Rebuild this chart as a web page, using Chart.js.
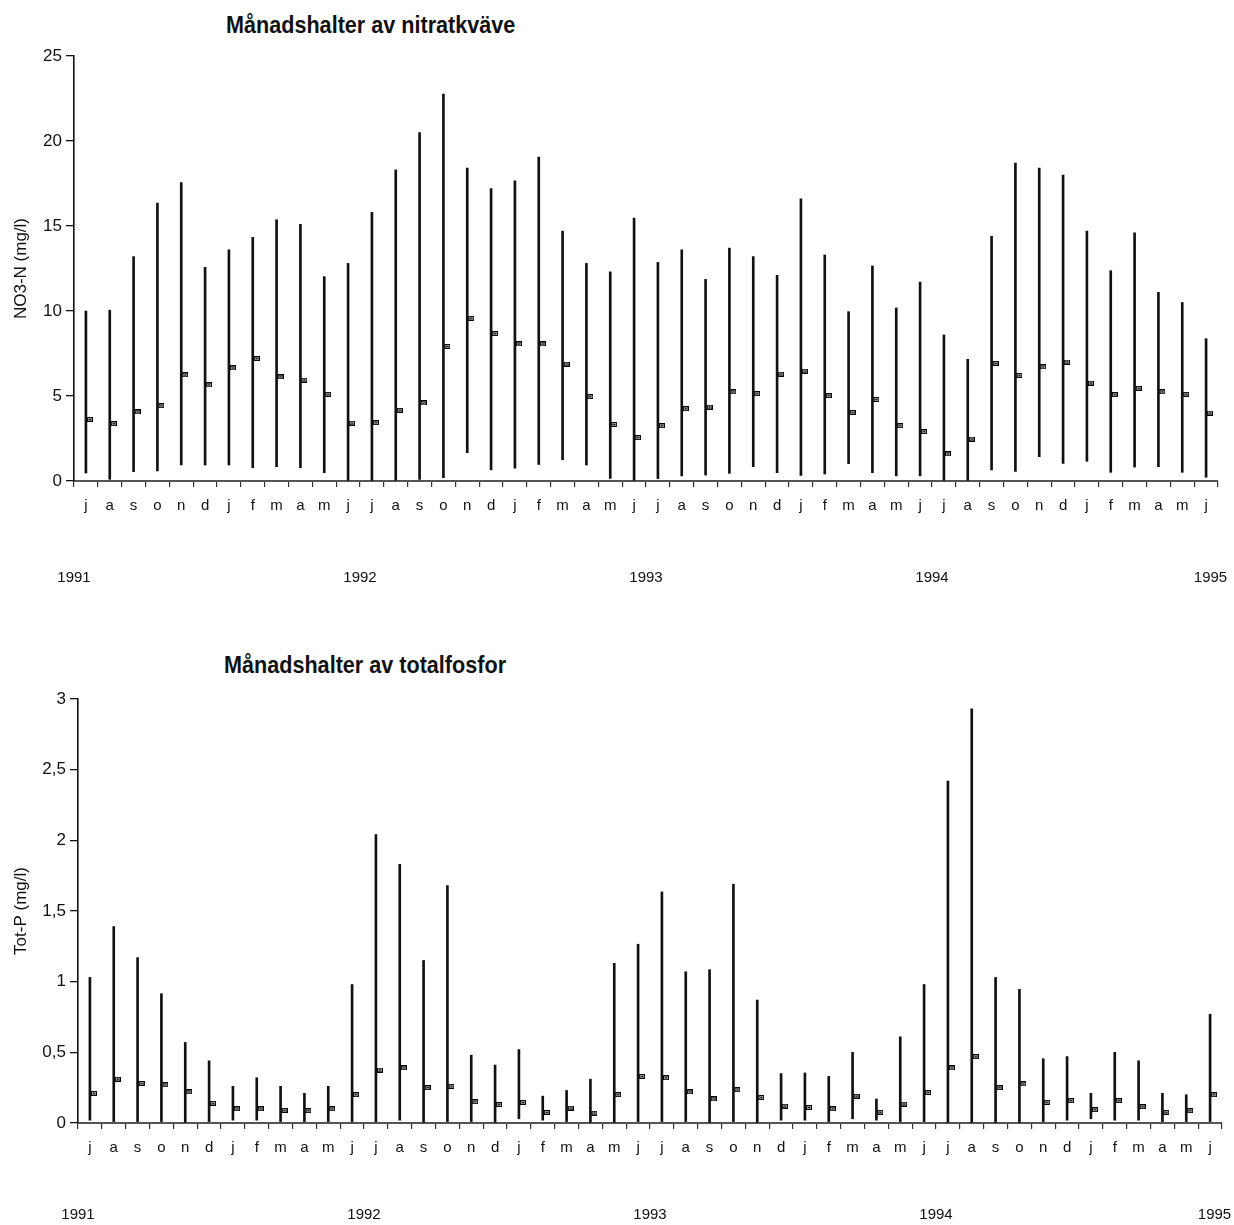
<!DOCTYPE html>
<html>
<head>
<meta charset="utf-8">
<script src="https://cdn.jsdelivr.net/npm/chart.js@4/dist/chart.umd.min.js"></script>
<style>
  body { margin: 0; background: #fff; }
  #page { position: relative; width: 1234px; height: 1225px; overflow: hidden; }
  .title {
    position: absolute; font-family: "Liberation Sans", Arial, sans-serif; font-weight: bold;
    font-size: 24px; line-height: 24px; color: #111; white-space: nowrap;
    transform: scaleX(0.9); transform-origin: left top;
  }
  canvas { position: absolute; left: 0; }
</style>
</head>
<body>
<div id="page">
  <div class="title" style="left:226px; top:13px;">Månadshalter av nitratkväve</div>
  <canvas id="no3Chart" width="1234" height="610" style="top:0;"></canvas>
  <div class="title" style="left:224px; top:653px;">Månadshalter av totalfosfor</div>
  <canvas id="totpChart" width="1234" height="605" style="top:620px;"></canvas>
</div>
<script>
// Months july 1991 - june 1995
const monthLabels = [
  'j', 'a', 's', 'o', 'n', 'd', 'j', 'f', 'm', 'a', 'm', 'j',
  'j', 'a', 's', 'o', 'n', 'd', 'j', 'f', 'm', 'a', 'm', 'j',
  'j', 'a', 's', 'o', 'n', 'd', 'j', 'f', 'm', 'a', 'm', 'j',
  'j', 'a', 's', 'o', 'n', 'd', 'j', 'f', 'm', 'a', 'm', 'j'
];
const yearLabels = ['1991', '1992', '1993', '1994', '1995'];

// Nitrate nitrogen, mg/l
const no3Max = [10.0, 10.05, 13.2, 16.35, 17.55, 12.57, 13.6, 14.33, 15.37, 15.1, 12.02, 12.8,
  15.8, 18.3, 20.5, 22.76, 18.4, 17.2, 17.65, 19.06, 14.7, 12.8, 12.3, 15.47,
  12.86, 13.6, 11.86, 13.7, 13.2, 12.1, 16.6, 13.3, 9.96, 12.65, 10.18, 11.7,
  8.59, 7.16, 14.4, 18.7, 18.4, 18.0, 14.7, 12.37, 14.6, 11.1, 10.5, 8.37];
const no3Min = [0.47, 0.1, 0.55, 0.6, 0.94, 0.94, 0.94, 0.78, 0.84, 0.78, 0.49, 0,
  0, 0, 0.1, 0.2, 1.67, 0.65, 0.76, 0.98, 1.25, 0.94, 0.15, 0,
  0.14, 0.3, 0.35, 0.45, 0.84, 0.49, 0.33, 0.41, 1.02, 0.49, 0.3, 0.3,
  0, 0, 0.65, 0.57, 1.43, 1.04, 1.16, 0.51, 0.82, 0.84, 0.51, 0.22];
const no3Mean = [3.63, 3.37, 4.06, 4.43, 6.24, 5.65, 6.65, 7.2, 6.12, 5.94, 5.1, 3.41,
  3.43, 4.16, 4.59, 7.92, 9.57, 8.67, 8.06, 8.06, 6.88, 4.96, 3.33, 2.55,
  3.25, 4.25, 4.35, 5.24, 5.14, 6.29, 6.47, 5.02, 4.04, 4.8, 3.25, 2.9,
  1.59, 2.47, 6.92, 6.22, 6.71, 7.0, 5.76, 5.08, 5.45, 5.24, 5.1, 4.0];
const no3TickLabels = ['0', '5', '10', '15', '20', '25'];

// Total phosphorus, mg/l
const pMax = [1.03, 1.39, 1.17, 0.915, 0.57, 0.44, 0.26, 0.32, 0.26, 0.21, 0.26, 0.98,
  2.04, 1.83, 1.15, 1.68, 0.48, 0.41, 0.52, 0.19, 0.23, 0.31, 1.13, 1.265,
  1.635, 1.07, 1.085, 1.69, 0.87, 0.35, 0.354, 0.33, 0.5, 0.17, 0.61, 0.98,
  2.42, 2.93, 1.03, 0.946, 0.455, 0.47, 0.21, 0.5, 0.44, 0.21, 0.2, 0.77];
const pMin = [0.02, 0.01, 0.01, 0.01, 0, 0.01, 0.02, 0.02, 0.01, 0.01, 0.01, 0.01,
  0.01, 0.02, 0, 0.01, 0.01, 0, 0.03, 0.02, 0.01, 0, 0, 0.01,
  0.01, 0.01, 0, 0.01, 0, 0.02, 0.02, 0.01, 0.03, 0.02, 0.01, 0.01,
  0, 0, 0, 0, 0.01, 0.02, 0.03, 0.02, 0.02, 0.01, 0.01, 0.01];
const pMean = [0.21, 0.31, 0.28, 0.27, 0.22, 0.14, 0.1, 0.1, 0.09, 0.087, 0.1, 0.2,
  0.375, 0.39, 0.25, 0.26, 0.15, 0.13, 0.146, 0.075, 0.106, 0.07, 0.2, 0.33,
  0.32, 0.22, 0.17, 0.235, 0.18, 0.12, 0.11, 0.1, 0.19, 0.076, 0.134, 0.215,
  0.39, 0.47, 0.25, 0.276, 0.146, 0.158, 0.094, 0.158, 0.115, 0.076, 0.087, 0.2];
const pTickLabels = ['0', '0,5', '1', '1,5', '2', '2,5', '3'];

const fontFamily = '"Liberation Sans", Arial, sans-serif';
const ink = '#111';

// small boxed marker, drawn just right of the range line
function meanMarker() {
  const c = document.createElement('canvas');
  c.width = 14; c.height = 5;
  const g = c.getContext('2d');
  g.fillStyle = '#000';
  g.fillRect(8, 0, 6, 5);
  g.fillStyle = '#9a9a9a';
  g.fillRect(9, 1, 4, 3);
  g.fillStyle = '#000';
  g.fillRect(10, 2, 2, 1);
  return c;
}
const marker = meanMarker();

function makeChart(id, cfg) {
  const ranges = cfg.max.map((v, i) => [cfg.min[i], v]);
  return new Chart(document.getElementById(id), {
    data: {
      labels: monthLabels,
      datasets: [
        {
          type: 'line', data: cfg.mean, showLine: false, order: 0,
          pointStyle: marker, pointRadius: 3
        },
        {
          type: 'bar', data: ranges, order: 1,
          backgroundColor: ink, barThickness: 2, borderWidth: 0
        }
      ]
    },
    options: {
      responsive: false,
      animation: false,
      events: [],
      layout: { padding: { top: cfg.padTop, right: cfg.padRight, left: 0, bottom: 0 } },
      plugins: { legend: { display: false }, tooltip: { enabled: false } },
      scales: {
        x: {
          offset: true,
          weight: 0,
          grid: { offset: true, drawOnChartArea: false, tickLength: 6, color: '#333', lineWidth: 1.2 },
          border: { color: '#555', width: 2 },
          ticks: {
            autoSkip: false, maxRotation: 0, padding: 10, color: ink,
            font: { family: fontFamily, size: 15 }
          },
          afterFit: s => { s.height = 40; s.paddingLeft = 0; s.paddingRight = 0; }
        },
        years: {
          type: 'linear', position: 'bottom', min: 0, max: 48, weight: 1,
          grid: { display: false, drawTicks: false },
          border: { display: false },
          ticks: {
            stepSize: 12, autoSkip: false, maxRotation: 0, padding: cfg.yearPad, color: ink,
            font: { family: fontFamily, size: 15 },
            // last year label sits a little inside the axis end
            callback: v => v === 48 ? yearLabels[v / 12] + '\u2003' : yearLabels[v / 12]
          },
          afterFit: s => { s.height = cfg.yearHeight; s.paddingLeft = 0; s.paddingRight = 0; }
        },
        y: {
          min: 0, max: cfg.yMax,
          grid: { drawOnChartArea: false, tickLength: 8, color: ink, lineWidth: 1.3 },
          border: { color: ink, width: 1.6 },
          ticks: {
            stepSize: cfg.step, padding: 4, color: ink,
            font: { family: fontFamily, size: 17 },
            callback: (v, i) => cfg.tickLabels[i]
          },
          title: {
            display: true, text: cfg.yTitle, color: ink,
            font: { family: fontFamily, size: 17 },
            padding: { top: 11, bottom: 0 }
          },
          afterFit: s => { s.width = cfg.axisLeft; }
        }
      }
    }
  });
}

makeChart('no3Chart', {
  max: no3Max, min: no3Min, mean: no3Mean,
  yMax: 25, step: 5, tickLabels: no3TickLabels, yTitle: 'NO3-N (mg/l)',
  padTop: 56, padRight: 16, axisLeft: 74, yearPad: 48, yearHeight: 89
});

makeChart('totpChart', {
  max: pMax, min: pMin, mean: pMean,
  yMax: 3, step: 0.5, tickLabels: pTickLabels, yTitle: 'Tot-P (mg/l)',
  padTop: 79, padRight: 12, axisLeft: 78, yearPad: 43, yearHeight: 62
});
</script>
</body>
</html>
